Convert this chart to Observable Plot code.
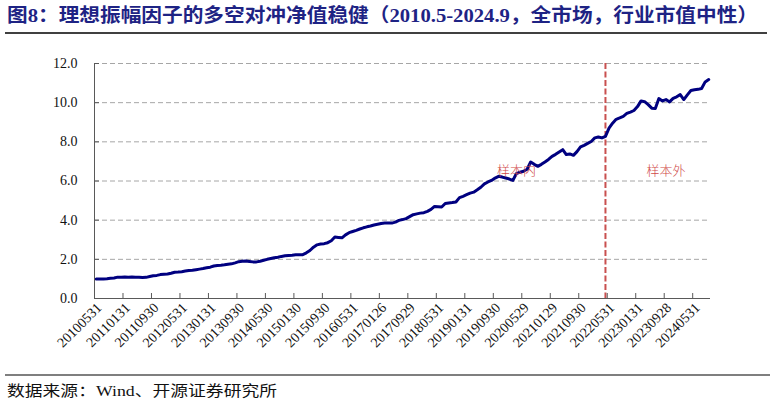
<!DOCTYPE html>
<html>
<head>
<meta charset="utf-8">
<script src="https://cdn.jsdelivr.net/npm/d3@7"></script>
<script src="https://cdn.jsdelivr.net/npm/@observablehq/plot@0.6"></script>
<style>
  body { margin: 0; background: #fff; }
  #wrap { width: 774px; height: 405px; overflow: hidden; background: #fff; }
  svg { display: block; }
</style>
</head>
<body>
<div id="wrap">
  <svg id="title" width="774" height="40">
    <text x="7" y="22" textLength="751" lengthAdjust="spacingAndGlyphs"
      style="font-family:'Liberation Serif','Noto Sans CJK SC';font-size:19px;font-weight:bold;fill:#1e2384">图8：理想振幅因子的多空对冲净值稳健（2010.5-2024.9，全市场，行业市值中性）</text>
    <line x1="5" x2="767" y1="33" y2="33" stroke="#000" stroke-width="1.5"></line>
  </svg>
  <div id="chart"></div>
  <svg id="footer" width="774" height="35">
    <line x1="5" x2="770" y1="5" y2="5" stroke="#000" stroke-width="1.2"></line>
    <text x="7" y="26" textLength="270" lengthAdjust="spacingAndGlyphs"
      style="font-family:'Liberation Serif','Noto Sans CJK SC';font-size:15px;fill:#111">数据来源：Wind、开源证券研究所</text>
  </svg>
</div>
<script>
// Category tick labels (every 8th month, starting 2010-05)
const tickLabels = ["20100531","20110131","20110930","20120531","20130131","20130930",
  "20140530","20150130","20150930","20160531","20170126","20170929","20180531",
  "20190131","20190930","20200529","20210129","20210930","20220531","20230131",
  "20230928","20240531"];
const tickStep = 8;

// Monthly long-short net value, 2010-05 .. 2024-09
const netValue2010 = [1.00,1.00,1.00,1.01,1.03,1.05,1.09,1.09];
const netValue2011 = [1.10,1.09,1.10,1.08,1.09,1.07,1.08,1.12,1.16,1.18,1.22,1.24];
const netValue2012 = [1.25,1.29,1.34,1.35,1.37,1.40,1.43,1.44,1.47,1.50,1.53,1.57];
const netValue2013 = [1.60,1.66,1.69,1.70,1.72,1.75,1.77,1.82,1.88,1.90,1.91,1.89];
const netValue2014 = [1.87,1.87,1.90,1.95,2.00,2.04,2.08,2.11,2.15,2.18,2.20,2.21];
const netValue2015 = [2.23,2.23,2.24,2.33,2.45,2.62,2.74,2.78,2.80,2.85,2.95,3.14];
const netValue2016 = [3.12,3.10,3.25,3.36,3.42,3.48,3.55,3.61,3.66,3.70,3.75,3.79];
const netValue2017 = [3.83,3.85,3.86,3.85,3.90,3.99,4.03,4.08,4.18,4.28,4.32,4.36];
const netValue2018 = [4.38,4.45,4.55,4.70,4.69,4.67,4.85,4.88,4.90,4.93,5.15,5.22];
const netValue2019 = [5.30,5.38,5.43,5.55,5.68,5.85,5.95,6.03,6.15,6.24,6.20,6.15];
const netValue2020 = [6.10,6.03,6.38,6.45,6.50,6.60,6.97,6.85,6.75,6.85,6.97,7.10];
const netValue2021 = [7.26,7.36,7.48,7.60,7.35,7.38,7.31,7.50,7.74,7.82,7.92,8.02];
const netValue2022 = [8.20,8.25,8.20,8.28,8.70,8.95,9.15,9.22,9.30,9.45,9.52,9.60];
const netValue2023 = [9.80,10.09,10.05,9.90,9.72,9.70,10.21,10.09,10.16,10.04,10.22,10.30];
const netValue2024 = [10.41,10.16,10.40,10.62,10.66,10.68,10.72,11.06,11.18];

// In-sample / out-of-sample split (month index, 2022-04)
const splitIndex = 143;
const annotations = [
  {label: "样本内", i: 118, v: 6.5},
  {label: "样本外", i: 160, v: 6.5}
];
const yTicks = [0, 2, 4, 6, 8, 10, 12];

const netValue = [].concat(netValue2010, netValue2011, netValue2012, netValue2013,
  netValue2014, netValue2015, netValue2016, netValue2017, netValue2018, netValue2019,
  netValue2020, netValue2021, netValue2022, netValue2023, netValue2024);
const data = netValue.map((v, i) => ({i, v}));
const xDomain = [-0.5, netValue.length - 0.5];
const labelTicks = tickLabels.map((_, k) => k * tickStep);
const boundaryTicks = d3.range(1, tickLabels.length).map(k => k * tickStep - 0.5);

const W = 774, H = 330, mL = 94, mR = 64, mT = 23, mB = 72;
const plotW = W - mL - mR, plotH = H - mT - mB;
const axisColor = "#595959";

const chart = Plot.plot({
  width: W, height: H,
  marginLeft: mL, marginRight: mR, marginTop: mT, marginBottom: mB,
  x: {domain: xDomain},
  y: {domain: [0, 12]},
  style: {fontFamily: "'Liberation Serif', serif", fontSize: "14px", color: "#111", background: "#fff", overflow: "visible"},
  marks: [
    Plot.gridY(yTicks.filter(d => d > 0), {stroke: "#a6a6a6", strokeOpacity: 1, strokeDasharray: "5,3"}),
    Plot.ruleX([splitIndex], {stroke: "#c9504f", strokeWidth: 2, strokeDasharray: "6,2.5"}),
    Plot.line(data, {x: "i", y: "v", stroke: "#000080", strokeWidth: 3, strokeLinejoin: "round"}),
    Plot.text(annotations, {x: "i", y: "v", text: "label", fill: "#d04a48", fontSize: 13,
      fontFamily: "'Noto Sans CJK SC'", fontWeight: 300, style: "letter-spacing:1px"}),
    Plot.ruleY([0], {stroke: axisColor, strokeWidth: 1}),
    Plot.ruleX([xDomain[0]], {stroke: axisColor, strokeWidth: 1}),
    Plot.tickY(yTicks, {y: d => d, insetRight: plotW - 5, stroke: axisColor}),
    Plot.tickX(boundaryTicks, {x: d => d, insetTop: plotH - 5, stroke: axisColor}),
    Plot.axisY(yTicks, {tickSize: 0, tickPadding: 17, tickFormat: d => d.toFixed(1), fontSize: 14, label: null}),
    Plot.axisX(labelTicks, {tickSize: 0, tickPadding: 7, dx: 3, tickRotate: -45, fontSize: 14, label: null,
      tickFormat: i => tickLabels[i / tickStep]})
  ]
});
document.getElementById("chart").appendChild(chart);
</script>
</body>
</html>
